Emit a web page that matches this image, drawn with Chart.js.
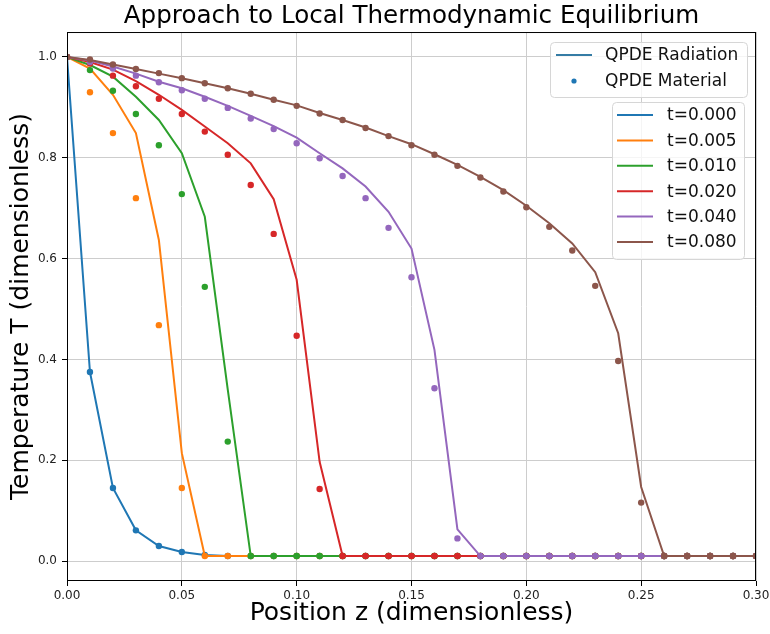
<!DOCTYPE html>
<html>
<head>
<meta charset="utf-8">
<script src="https://cdn.jsdelivr.net/npm/chart.js@4.4.1/dist/chart.umd.min.js"></script>
<style>
  html, body { margin: 0; padding: 0; background: #fff; }
</style>
</head>
<body>
<canvas id="lteChart" width="770" height="634"></canvas>
<script>
// Positions along the slab (dimensionless)
const zPos = [0.00, 0.01, 0.02, 0.03, 0.04, 0.05, 0.06, 0.07, 0.08, 0.09,
              0.10, 0.11, 0.12, 0.13, 0.14, 0.15, 0.16, 0.17, 0.18, 0.19,
              0.20, 0.21, 0.22, 0.23, 0.24, 0.25, 0.26, 0.27, 0.28, 0.29, 0.30];

const timeLabels = ['t=0.000', 't=0.005', 't=0.010', 't=0.020', 't=0.040', 't=0.080'];
const seriesColors = ['#1f77b4', '#ff7f0e', '#2ca02c', '#d62728', '#9467bd', '#8c564b'];

// QPDE radiation temperature (lines)
const radT000 = [1.0, 0.375, 0.145, 0.061, 0.030, 0.018, 0.012, 0.01, 0.01, 0.01,
                 0.01, 0.01, 0.01, 0.01, 0.01, 0.01, 0.01, 0.01, 0.01, 0.01,
                 0.01, 0.01, 0.01, 0.01, 0.01, 0.01, 0.01, 0.01, 0.01, 0.01, 0.01];
const radT005 = [1.0, 0.977, 0.925, 0.849, 0.637, 0.214, 0.01, 0.01, 0.01, 0.01,
                 0.01, 0.01, 0.01, 0.01, 0.01, 0.01, 0.01, 0.01, 0.01, 0.01,
                 0.01, 0.01, 0.01, 0.01, 0.01, 0.01, 0.01, 0.01, 0.01, 0.01, 0.01];
const radT010 = [1.0, 0.984, 0.961, 0.921, 0.875, 0.809, 0.683, 0.34, 0.01, 0.01,
                 0.01, 0.01, 0.01, 0.01, 0.01, 0.01, 0.01, 0.01, 0.01, 0.01,
                 0.01, 0.01, 0.01, 0.01, 0.01, 0.01, 0.01, 0.01, 0.01, 0.01, 0.01];
const radT020 = [1.0, 0.990, 0.975, 0.952, 0.925, 0.895, 0.862, 0.829, 0.789, 0.718,
                 0.558, 0.197, 0.01, 0.01, 0.01, 0.01, 0.01, 0.01, 0.01, 0.01,
                 0.01, 0.01, 0.01, 0.01, 0.01, 0.01, 0.01, 0.01, 0.01, 0.01, 0.01];
const radT040 = [1.0, 0.993, 0.981, 0.967, 0.951, 0.938, 0.921, 0.903, 0.883, 0.863,
                 0.840, 0.809, 0.779, 0.743, 0.693, 0.620, 0.419, 0.063, 0.01, 0.01,
                 0.01, 0.01, 0.01, 0.01, 0.01, 0.01, 0.01, 0.01, 0.01, 0.01, 0.01];
const radT080 = [1.0, 0.994, 0.985, 0.976, 0.967, 0.958, 0.948, 0.938, 0.927, 0.915,
                 0.904, 0.889, 0.875, 0.860, 0.843, 0.827, 0.807, 0.786, 0.762, 0.736,
                 0.705, 0.670, 0.630, 0.573, 0.452, 0.147, 0.01, 0.01, 0.01, 0.01, 0.01];

// QPDE material temperature (dots)
const matT000 = [1.0, 0.375, 0.145, 0.061, 0.030, 0.018, 0.012, 0.01, 0.01, 0.01,
                 0.01, 0.01, 0.01, 0.01, 0.01, 0.01, 0.01, 0.01, 0.01, 0.01,
                 0.01, 0.01, 0.01, 0.01, 0.01, 0.01, 0.01, 0.01, 0.01, 0.01, 0.01];
const matT005 = [1.0, 0.930, 0.849, 0.720, 0.468, 0.145, 0.01, 0.01, 0.01, 0.01,
                 0.01, 0.01, 0.01, 0.01, 0.01, 0.01, 0.01, 0.01, 0.01, 0.01,
                 0.01, 0.01, 0.01, 0.01, 0.01, 0.01, 0.01, 0.01, 0.01, 0.01, 0.01];
const matT010 = [1.0, 0.974, 0.933, 0.887, 0.825, 0.728, 0.544, 0.237, 0.01, 0.01,
                 0.01, 0.01, 0.01, 0.01, 0.01, 0.01, 0.01, 0.01, 0.01, 0.01,
                 0.01, 0.01, 0.01, 0.01, 0.01, 0.01, 0.01, 0.01, 0.01, 0.01, 0.01];
const matT020 = [1.0, 0.987, 0.963, 0.942, 0.917, 0.887, 0.852, 0.806, 0.746, 0.649,
                 0.447, 0.143, 0.01, 0.01, 0.01, 0.01, 0.01, 0.01, 0.01, 0.01,
                 0.01, 0.01, 0.01, 0.01, 0.01, 0.01, 0.01, 0.01, 0.01, 0.01, 0.01];
const matT040 = [1.0, 0.990, 0.977, 0.963, 0.950, 0.934, 0.917, 0.899, 0.878, 0.857,
                 0.829, 0.799, 0.764, 0.720, 0.661, 0.563, 0.343, 0.045, 0.01, 0.01,
                 0.01, 0.01, 0.01, 0.01, 0.01, 0.01, 0.01, 0.01, 0.01, 0.01, 0.01];
const matT080 = [1.0, 0.995, 0.985, 0.976, 0.968, 0.958, 0.948, 0.938, 0.927, 0.915,
                 0.903, 0.888, 0.875, 0.859, 0.843, 0.825, 0.806, 0.784, 0.761, 0.733,
                 0.702, 0.663, 0.616, 0.546, 0.397, 0.116, 0.01, 0.01, 0.01, 0.01, 0.01];

const radSeries = [radT000, radT005, radT010, radT020, radT040, radT080];
const matSeries = [matT000, matT005, matT010, matT020, matT040, matT080];

const xTicks = [0.00, 0.05, 0.10, 0.15, 0.20, 0.25, 0.30];
const yTicks = [0.0, 0.2, 0.4, 0.6, 0.8, 1.0];

const FONT = 'DejaVu Sans';

// build line + dot datasets for each time step
const datasets = [];
radSeries.forEach((vals, i) => {
  datasets.push({
    label: timeLabels[i],
    data: zPos.map((z, k) => ({ x: z, y: vals[k] })),
    borderColor: seriesColors[i],
    backgroundColor: seriesColors[i],
    borderWidth: 2,
    pointRadius: 0,
    tension: 0,
    showLine: true
  });
  datasets.push({
    label: timeLabels[i] + ' material',
    data: zPos.map((z, k) => ({ x: z, y: matSeries[i][k] })),
    borderColor: seriesColors[i],
    backgroundColor: seriesColors[i],
    pointRadius: 3.2,
    pointBorderWidth: 0,
    showLine: false
  });
});
// later datasets on top, like matplotlib
datasets.forEach((d, i) => { d.order = datasets.length - i; });

// axes frame + the two legend boxes
const framePlugin = {
  id: 'framePlugin',
  afterDraw(chart) {
    const { ctx, chartArea: a } = chart;
    ctx.save();
    ctx.strokeStyle = '#000';
    ctx.lineWidth = 1;
    ctx.strokeRect(a.left + 0.5, a.top + 0.5, a.right - a.left - 1, a.bottom - a.top - 1);

    function box(x, y, w, h) {
      ctx.beginPath();
      ctx.roundRect(x + 0.5, y + 0.5, w, h, 4);
      ctx.fillStyle = 'rgba(255,255,255,0.8)';
      ctx.fill();
      ctx.strokeStyle = '#d6d6d6';
      ctx.lineWidth = 1;
      ctx.stroke();
    }
    ctx.font = '17px "' + FONT + '"';
    ctx.textBaseline = 'middle';
    ctx.textAlign = 'left';

    // legend 1: radiation / material
    let x0 = a.right - 206, y0 = a.top + 10;
    box(x0, y0, 197, 55);
    ctx.strokeStyle = '#357ca5';
    ctx.lineWidth = 2;
    ctx.beginPath();
    ctx.moveTo(x0 + 6, y0 + 13);
    ctx.lineTo(x0 + 42, y0 + 13);
    ctx.stroke();
    ctx.fillStyle = seriesColors[0];
    ctx.beginPath();
    ctx.arc(x0 + 24, y0 + 39, 2.6, 0, Math.PI * 2);
    ctx.fill();
    ctx.fillStyle = '#111';
    ctx.fillText('QPDE Radiation', x0 + 55, y0 + 14);
    ctx.fillText('QPDE Material', x0 + 55, y0 + 40);

    // legend 2: time steps
    x0 = a.right - 144; y0 = a.top + 70;
    box(x0, y0, 132, 157);
    timeLabels.forEach((lab, i) => {
      const yy = y0 + 13 + i * 25.4;
      ctx.strokeStyle = seriesColors[i];
      ctx.lineWidth = 2;
      ctx.beginPath();
      ctx.moveTo(x0 + 5, yy);
      ctx.lineTo(x0 + 41, yy);
      ctx.stroke();
      ctx.fillStyle = '#111';
      ctx.fillText(lab, x0 + 55, yy + 1);
    });
    ctx.restore();
  }
};

const ctx = document.getElementById('lteChart').getContext('2d');
const lteChart = new Chart(ctx, {
  type: 'scatter',
  data: { datasets: datasets },
  options: {
    responsive: false,
    animation: false,
    layout: { padding: { left: 0, right: 14, top: 0, bottom: 0 } },
    plugins: {
      legend: { display: false },
      tooltip: { enabled: false },
      title: {
        display: true,
        text: 'Approach to Local Thermodynamic Equilibrium',
        fullSize: false,
        color: '#000',
        font: { family: FONT, size: 24.6, weight: 'normal' },
        padding: { top: 2, bottom: 0.5 }
      }
    },
    scales: {
      x: {
        type: 'linear',
        min: 0,
        max: 0.3,
        afterBuildTicks: s => { s.ticks = xTicks.map(v => ({ value: v })); },
        afterFit: s => { s.height = 53; s.paddingLeft = 0; s.paddingRight = 0; },
        ticks: {
          callback: v => v.toFixed(2),
          color: '#222',
          font: { family: FONT, size: 12 },
          padding: 3,
          maxRotation: 0,
          autoSkip: false
        },
        grid: { color: '#cdcdcd', lineWidth: 1, tickColor: '#000', tickLength: 5 },
        border: { display: false },
        title: {
          display: true,
          text: 'Position z (dimensionless)',
          color: '#000',
          font: { family: FONT, size: 25 },
          padding: { top: 0, bottom: 6 }
        }
      },
      y: {
        type: 'linear',
        min: -0.0395,
        max: 1.0495,
        afterBuildTicks: s => { s.ticks = yTicks.map(v => ({ value: v })); },
        afterFit: s => { s.width = 67; s.paddingTop = 0; s.paddingBottom = 0; },
        ticks: {
          callback: v => v.toFixed(1),
          color: '#222',
          font: { family: FONT, size: 12 },
          padding: 5
        },
        grid: { color: '#cdcdcd', lineWidth: 1, tickColor: '#000', tickLength: 5 },
        border: { display: false },
        title: {
          display: true,
          text: 'Temperature T (dimensionless)',
          color: '#000',
          font: { family: FONT, size: 25 },
          padding: { top: 6, bottom: 0 }
        }
      }
    }
  },
  plugins: [framePlugin]
});
</script>
</body>
</html>
